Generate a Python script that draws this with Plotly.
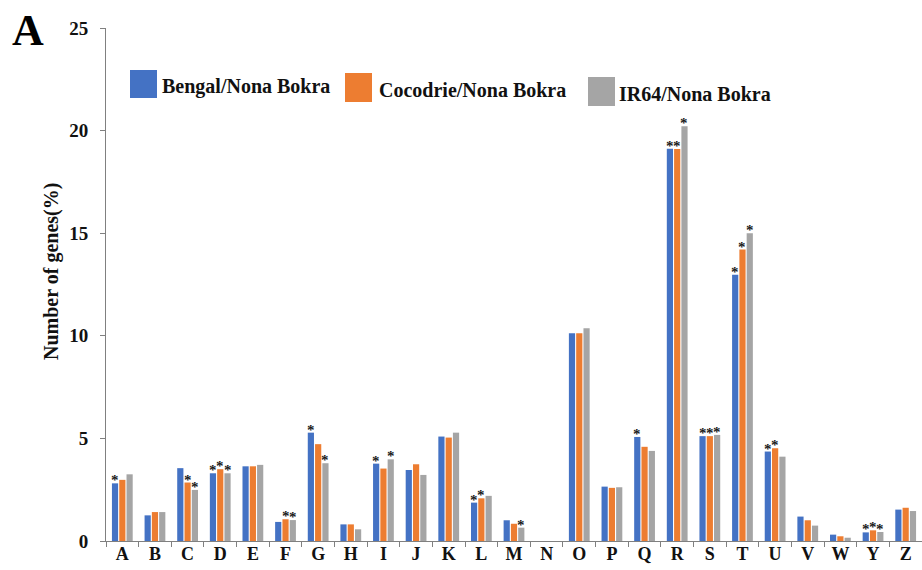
import plotly.graph_objects as go

categories = ["A", "B", "C", "D", "E", "F", "G", "H", "I", "J", "K", "L", "M",
              "N", "O", "P", "Q", "R", "S", "T", "U", "V", "W", "Y", "Z"]
bengal = [2.81, 1.25, 3.55, 3.30, 3.64, 0.93, 5.28, 0.81, 3.77, 3.46, 5.09, 1.87, 1.01,
          0.0, 10.12, 2.65, 5.07, 19.12, 5.11, 12.98, 4.36, 1.19, 0.31, 0.42, 1.53]
cocodrie = [2.98, 1.41, 2.85, 3.50, 3.64, 1.06, 4.72, 0.81, 3.53, 3.74, 5.04, 2.08, 0.84,
            0.0, 10.12, 2.59, 4.59, 19.10, 5.11, 14.20, 4.52, 1.01, 0.23, 0.52, 1.62]
ir64 = [3.25, 1.41, 2.49, 3.30, 3.71, 1.02, 3.79, 0.57, 3.98, 3.22, 5.28, 2.20, 0.65,
        0.0, 10.37, 2.62, 4.39, 20.21, 5.17, 15.00, 4.11, 0.75, 0.16, 0.44, 1.46]
# significance marks (1 = asterisk)
sig_bengal = [1, 0, 0, 1, 0, 0, 1, 0, 1, 0, 0, 1, 0, 0, 0, 0, 1, 1, 1, 1, 1, 0, 0, 1, 0]
sig_cocodrie = [0, 0, 1, 1, 0, 1, 0, 0, 0, 0, 0, 1, 0, 0, 0, 0, 0, 1, 1, 1, 1, 0, 0, 1, 0]
sig_ir64 = [0, 0, 1, 1, 0, 1, 1, 0, 1, 0, 0, 0, 1, 0, 0, 0, 0, 1, 1, 1, 0, 0, 0, 1, 0]
series_names = ["Bengal/Nona Bokra", "Cocodrie/Nona Bokra", "IR64/Nona Bokra"]
y_ticks = [0, 5, 10, 15, 20, 25]

colors = ["#4472C4", "#ED7D31", "#A5A5A5"]
SERIF = "Liberation Serif"
W, H = 922, 570
ML, MR, MT, MB = 106, 0, 28, 29
BARGAP = 0.33

fig = go.Figure()
all_vals = [bengal, cocodrie, ir64]
all_sig = [sig_bengal, sig_cocodrie, sig_ir64]
for name, vals, col in zip(series_names, all_vals, colors):
    fig.add_trace(go.Bar(x=categories, y=vals, name=name, marker_color=col,
                         marker_line_width=0, showlegend=False))

slot = (1 - BARGAP) / 3
annotations = []
for k, (vals, sig) in enumerate(zip(all_vals, all_sig)):
    for i, (v, s) in enumerate(zip(vals, sig)):
        if s:
            annotations.append(dict(x=i + (k - 1) * slot, y=v, xref="x", yref="y",
                                    text="<b>*</b>", showarrow=False, yanchor="bottom",
                                    borderpad=0, yshift=-6,
                                    font=dict(family=SERIF, size=15, color="#1a1a1a")))

pw = W - ML - MR
ph = H - MT - MB
def px(x):
    return (x - ML) / pw
def py(y):
    return (H - MB - y) / ph

# legend (manual)
legend_boxes = [(130, 157, 70, 98, 160, 86), (345, 372, 73, 102, 377, 90), (588, 615, 77, 106, 617, 94)]
shapes = []
for (x0, x1, y0, y1, tx, ty), name, col in zip(legend_boxes, series_names, colors):
    shapes.append(dict(type="rect", xref="paper", yref="paper", x0=px(x0), x1=px(x1),
                       y0=py(y1), y1=py(y0), fillcolor=col, line=dict(width=0)))
    annotations.append(dict(x=px(tx), y=py(ty), xref="paper", yref="paper", text="<b>%s</b>" % name,
                            showarrow=False, xanchor="left", yanchor="middle",
                            font=dict(family=SERIF, size=20, color="#111")))

annotations.append(dict(x=px(28), y=py(30), xref="paper", yref="paper", text="<b>A</b>",
                        showarrow=False, xanchor="center", yanchor="middle",
                        font=dict(family=SERIF, size=44, color="#000")))
annotations.append(dict(x=px(51), y=py(272), xref="paper", yref="paper",
                        text="<b>Number of genes(%)</b>", textangle=-90,
                        showarrow=False, xanchor="center", yanchor="middle",
                        font=dict(family=SERIF, size=20, color="#111")))

fig.update_layout(
    width=W, height=H,
    margin=dict(l=ML, r=MR, t=MT, b=MB),
    paper_bgcolor="white", plot_bgcolor="white",
    barmode="group", bargap=BARGAP, bargroupgap=0.15,
    showlegend=False,
    annotations=annotations, shapes=shapes,
    xaxis=dict(type="category", range=[-0.5, 24.5], tickson="boundaries",
               ticks="outside", ticklen=5, tickcolor="#808080",
               showline=True, linecolor="#808080", linewidth=1,
               showgrid=False, zeroline=False, ticklabelstandoff=-4,
               tickfont=dict(family=SERIF, size=18, color="#111"),
               tickprefix="<b>", ticksuffix="</b>"),
    yaxis=dict(range=[0, 25], tickvals=y_ticks, ticktext=["<b>%d</b>" % t for t in y_ticks],
               ticks="outside", ticklen=5, tickcolor="#808080",
               showline=True, linecolor="#808080", linewidth=1,
               showgrid=False, zeroline=False, ticklabelstandoff=8,
               tickfont=dict(family=SERIF, size=19, color="#111")),
)

fig.write_html("out.html", config={"displayModeBar": False},
               post_script="document.body.style.margin='0';document.body.style.overflow='hidden';")
